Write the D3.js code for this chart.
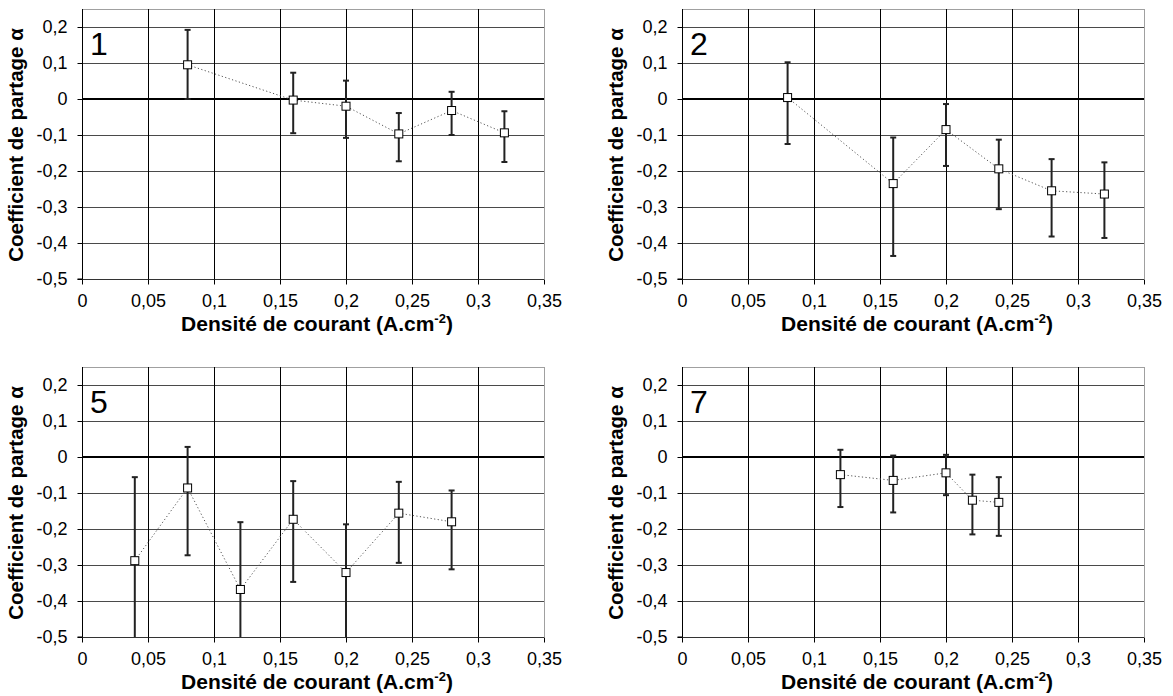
<!DOCTYPE html>
<html><head><meta charset="utf-8">
<script src="https://cdn.jsdelivr.net/npm/d3@7"></script>
<style>
html,body{margin:0;padding:0;background:#fff;}
svg{display:block;font-family:Arial,"Liberation Sans",sans-serif;}
</style></head>
<body><svg id="c" width="1173" height="696"></svg>
<script>
// ---- data ----
const panelLabels = ["1", "2", "5", "7"];
const xTicks = [0, 0.05, 0.1, 0.15, 0.2, 0.25, 0.3, 0.35];
const xTickLabels = ["0", "0,05", "0,1", "0,15", "0,2", "0,25", "0,3", "0,35"];
const yTicks = [0.2, 0.1, 0, -0.1, -0.2, -0.3, -0.4, -0.5];
const yTickLabels = ["0,2", "0,1", "0", "-0,1", "-0,2", "-0,3", "-0,4", "-0,5"];

const x1 = [0.08, 0.16, 0.20, 0.24, 0.28, 0.32];
const y1 = [0.095, -0.003, -0.020, -0.097, -0.032, -0.094];
const hi1 = [0.192, 0.073, 0.051, -0.039, 0.020, -0.034];
const lo1 = [0.000, -0.095, -0.108, -0.173, -0.100, -0.175];

const x2 = [0.08, 0.16, 0.20, 0.24, 0.28, 0.32];
const y2 = [0.004, -0.235, -0.085, -0.194, -0.255, -0.264];
const hi2 = [0.102, -0.107, -0.014, -0.113, -0.167, -0.176];
const lo2 = [-0.125, -0.436, -0.186, -0.306, -0.382, -0.386];

const x5 = [0.04, 0.08, 0.12, 0.16, 0.20, 0.24, 0.28];
const y5 = [-0.288, -0.086, -0.368, -0.173, -0.321, -0.156, -0.180];
const hi5 = [-0.056, 0.028, -0.181, -0.067, -0.187, -0.069, -0.093];
const lo5 = [-0.520, -0.273, -0.555, -0.347, -0.520, -0.294, -0.312];

const x7 = [0.12, 0.16, 0.20, 0.22, 0.24];
const y7 = [-0.049, -0.065, -0.044, -0.120, -0.126];
const hi7 = [0.020, 0.004, 0.006, -0.049, -0.056];
const lo7 = [-0.139, -0.154, -0.106, -0.215, -0.219];

const xTitle = "Densité de courant (A.cm";
const xTitleSup = "-2";
const yTitle = "Coefficient de partage α";

const series = [
  {x: x1, y: y1, hi: hi1, lo: lo1},
  {x: x2, y: y2, hi: hi2, lo: lo2},
  {x: x5, y: y5, hi: hi5, lo: lo5},
  {x: x7, y: y7, hi: hi7, lo: lo7}
];

// ---- layout ----
const layout = [
  {l: 82, r: 544, t: 9, b: 279},
  {l: 682, r: 1144, t: 9, b: 279},
  {l: 82, r: 544, t: 367, b: 637},
  {l: 682, r: 1144, t: 367, b: 637}
];

const svg = d3.select("#c");
const FONT = "Arial, 'Liberation Sans', sans-serif";

layout.forEach((L, i) => {
  const s = series[i];
  const xs = d3.scaleLinear().domain([0, 0.35]).range([L.l, L.r]);
  const ys = d3.scaleLinear().domain([-0.5, 0.25]).range([L.b, L.t]);
  const g = svg.append("g");
  const clipId = "clip" + i;
  svg.append("clipPath").attr("id", clipId)
    .append("rect").attr("x", L.l).attr("y", L.t).attr("width", L.r - L.l).attr("height", L.b - L.t);

  // top & right border
  g.append("line").attr("x1", L.l).attr("x2", L.r).attr("y1", L.t + 0.5).attr("y2", L.t + 0.5)
    .attr("stroke", "#a0a0a0").attr("stroke-width", 1);
  g.append("line").attr("x1", L.r + 0.5).attr("x2", L.r + 0.5).attr("y1", L.t).attr("y2", L.b)
    .attr("stroke", "#a0a0a0").attr("stroke-width", 1);

  // horizontal gridlines
  g.selectAll("line.hg").data(yTicks.filter(v => v !== 0 && v !== -0.5)).enter().append("line")
    .attr("x1", L.l).attr("x2", L.r)
    .attr("y1", d => Math.round(ys(d)) + 0.5).attr("y2", d => Math.round(ys(d)) + 0.5)
    .attr("stroke", "#4a4a4a").attr("stroke-width", 1);
  // vertical gridlines
  g.selectAll("line.vg").data(xTicks.filter(v => v > 0 && v < 0.35)).enter().append("line")
    .attr("x1", d => Math.round(xs(d)) + 0.5).attr("x2", d => Math.round(xs(d)) + 0.5)
    .attr("y1", L.t).attr("y2", L.b)
    .attr("stroke", "#000").attr("stroke-width", 1);

  // zero line
  g.append("line").attr("x1", L.l).attr("x2", L.r).attr("y1", ys(0)).attr("y2", ys(0))
    .attr("stroke", "#000").attr("stroke-width", 2);

  // axes
  const yAxis = d3.axisLeft(ys).tickValues(yTicks).tickSize(5).tickPadding(10)
    .tickFormat((d, k) => yTickLabels[k]);
  const ya = g.append("g").attr("transform", `translate(${L.l + 0.5},0)`).call(yAxis);
  ya.attr("font-size", null).attr("font-family", null);
  ya.select(".domain").attr("stroke", "#000").attr("d", `M-5,${L.b}H0V${L.t}`);
  ya.selectAll(".tick line").attr("stroke", "#000");
  ya.selectAll("text").style("font-size", "18px").attr("fill", "#000").style("font-family", FONT);

  const xAxis = d3.axisBottom(xs).tickValues(xTicks).tickSize(5).tickPadding(10)
    .tickFormat((d, k) => xTickLabels[k]);
  const xa = g.append("g").attr("transform", `translate(0,${L.b + 0.5})`).call(xAxis);
  xa.attr("font-size", null).attr("font-family", null);
  xa.select(".domain").attr("stroke", "#333").attr("d", `M${L.l},0H${L.r}`);
  xa.selectAll(".tick line").attr("stroke", "#000");
  xa.selectAll("text").style("font-size", "18px").attr("fill", "#000").style("font-family", FONT)
    .attr("dy", "0.68em");

  // axis titles
  const xt = g.append("text").attr("x", (L.l + L.r) / 2 + 4).attr("y", L.b + 52)
    .attr("text-anchor", "middle").attr("font-weight", "bold").style("font-size", "21px")
    .style("font-family", FONT);
  xt.append("tspan").text(xTitle);
  xt.append("tspan").attr("dy", -8).style("font-size", "13px").text(xTitleSup);
  xt.append("tspan").attr("dy", 8).text(")");

  g.append("text").attr("transform", `translate(${L.l - 59.5},${(L.t + L.b) / 2 + 1}) rotate(-90)`)
    .attr("text-anchor", "middle").attr("font-weight", "bold").style("font-size", "20.5px")
    .style("font-family", FONT)
    .text(yTitle);

  // panel number
  g.append("text").attr("x", L.l + 8).attr("y", L.t + 46).style("font-size", "32px")
    .style("font-family", FONT)
    .text(panelLabels[i]);

  // data
  const pts = s.x.map((xv, k) => ({x: xv, y: s.y[k], hi: s.hi[k], lo: s.lo[k]}));
  const dg = g.append("g").attr("clip-path", `url(#${clipId})`);
  dg.append("path").datum(pts)
    .attr("d", d3.line().x(d => xs(d.x)).y(d => ys(d.y)))
    .attr("fill", "none").attr("stroke", "#555").attr("stroke-width", 1)
    .attr("stroke-dasharray", "1.2,2.4");
  dg.selectAll("line.eb").data(pts).enter().append("line")
    .attr("x1", d => xs(d.x)).attr("x2", d => xs(d.x))
    .attr("y1", d => ys(d.hi)).attr("y2", d => ys(d.lo))
    .attr("stroke", "#222").attr("stroke-width", 2);
  dg.selectAll("line.capH").data(pts).enter().append("line")
    .attr("x1", d => xs(d.x) - 3).attr("x2", d => xs(d.x) + 3)
    .attr("y1", d => ys(d.hi)).attr("y2", d => ys(d.hi))
    .attr("stroke", "#222").attr("stroke-width", 2);
  dg.selectAll("line.capL").data(pts.filter(d => d.lo >= -0.5)).enter().append("line")
    .attr("x1", d => xs(d.x) - 3).attr("x2", d => xs(d.x) + 3)
    .attr("y1", d => ys(d.lo)).attr("y2", d => ys(d.lo))
    .attr("stroke", "#222").attr("stroke-width", 2);
  dg.selectAll("rect.m").data(pts).enter().append("rect")
    .attr("x", d => xs(d.x) - 4).attr("y", d => ys(d.y) - 4)
    .attr("width", 8).attr("height", 8)
    .attr("fill", "#fff").attr("stroke", "#000").attr("stroke-width", 1);
});
</script>
</body></html>
